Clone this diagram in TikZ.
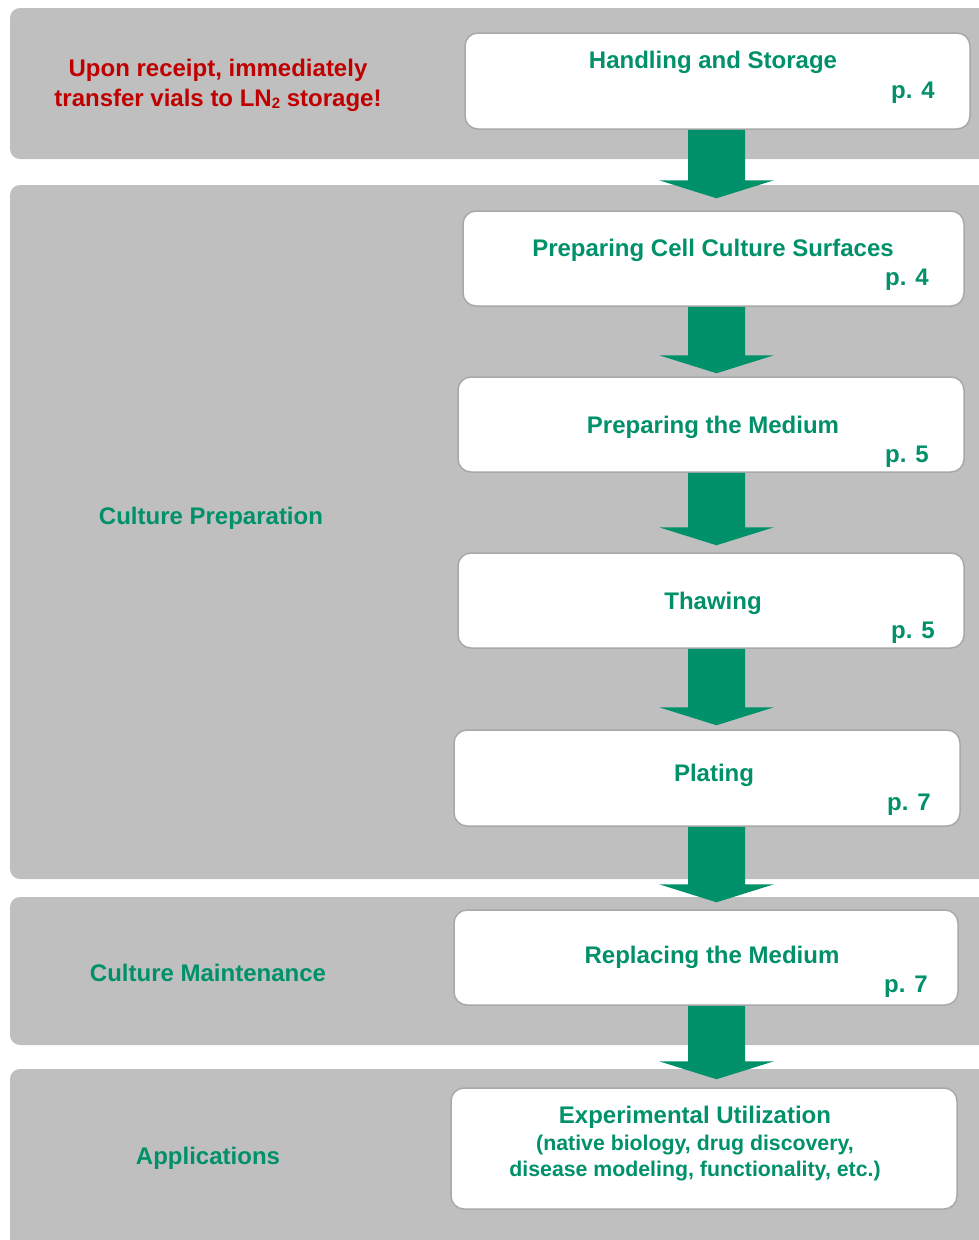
\documentclass[tikz,border=0pt]{standalone}
\usepackage{fontspec}
\setmainfont{Liberation Sans}
\usetikzlibrary{calc}
\definecolor{panelgray}{RGB}{191,191,191}
\definecolor{boxline}{RGB}{168,168,168}
\definecolor{stepgreen}{RGB}{0,145,106}
\definecolor{alertred}{RGB}{192,0,0}

% down arrow from the bottom of one step box to just above the next one
\newcommand{\flowarrow}[3]{%
  \fill[stepgreen] let \p1=(#1.south), \p2=(#2.north) in
    (688pt,\y1) -- (745pt,\y1) -- (745pt,\y2+#3+18pt) -- (774pt,\y2+#3+18pt)
    -- (716.5pt,\y2+#3) -- (659pt,\y2+#3+18pt) -- (688pt,\y2+#3+18pt) -- cycle;}

\begin{document}
\begin{tikzpicture}[x=1pt,y=1pt,
  panel/.style={fill=panelgray, rounded corners=10pt},
  stepbox/.style={draw=boxline, line width=1.5pt, fill=white, rounded corners=13pt,
    minimum width=#1, inner sep=0pt},
  big/.style={font=\fontsize{24}{30}\selectfont\bfseries, text=stepgreen, inner sep=0pt},
  small/.style={font=\fontsize{21.3}{26}\selectfont\bfseries, text=stepgreen, inner sep=0pt}]
\useasboundingbox (0,0) rectangle (979,-1240);
\clip (0,0) rectangle (979,-1240);

% section panels
\fill[panel] (10,-8) rectangle (1000,-159);
\fill[panel] (10,-185) rectangle (1000,-879);
\fill[panel] (10,-897) rectangle (1000,-1045);
\fill[panel] (10,-1069) rectangle (1000,-1260);

% section labels
\node[font=\fontsize{24}{30}\selectfont\bfseries, text=alertred, align=center, inner sep=0pt]
  (note) at (218,-85) {Upon receipt, immediately\\transfer vials to LN{\fontsize{15}{15}\selectfont\raisebox{-2pt}{2}} storage!};
\node[big] (prep) at (211,-518) {Culture Preparation};
\node[big] (maint) at (208,-973) {Culture Maintenance};
\node[big] (apps) at (208,-1158) {Applications};

% step boxes
\node[stepbox=505pt, minimum height=96pt] (b1) at (717.5,-81) {};
\node[stepbox=501pt, minimum height=95pt] (b2) at (713.5,-258.5) {};
\node[stepbox=506pt, minimum height=95pt] (b3) at (711,-424.5) {};
\node[stepbox=506pt, minimum height=95pt] (b4) at (711,-600.5) {};
\node[stepbox=506pt, minimum height=96pt] (b5) at (707,-778) {};
\node[stepbox=504pt, minimum height=95pt] (b6) at (706,-957.5) {};
\node[stepbox=506pt, minimum height=121pt] (b7) at (704,-1148.5) {};

% step titles and page references
\node[big] (t1) at (713,-62) {Handling and Storage};
\node[big, anchor=east] (p1) at (935,-93) {p. 4};
\node[big] (t2) at (713,-250) {Preparing Cell Culture Surfaces};
\node[big, anchor=east] (p2) at (929,-280) {p. 4};
\node[big] (t3) at (713,-427) {Preparing the Medium};
\node[big, anchor=east] (p3) at (929,-457) {p. 5};
\node[big] (t4) at (713,-603) {Thawing};
\node[big, anchor=east] (p4) at (935,-633) {p. 5};
\node[big] (t5) at (714,-775) {Plating};
\node[big, anchor=east] (p5) at (931,-805) {p. 7};
\node[big] (t6) at (712,-957) {Replacing the Medium};
\node[big, anchor=east] (p6) at (928,-987) {p. 7};
\node[big] (t7) at (695,-1117) {Experimental Utilization};
\node[small] (u1) at (695,-1145) {(native biology, drug discovery,};
\node[small] (u2) at (695,-1171) {disease modeling, functionality, etc.)};

% arrows between steps
\flowarrow{b1}{b2}{12pt}
\flowarrow{b2}{b3}{3pt}
\flowarrow{b3}{b4}{7pt}
\flowarrow{b4}{b5}{4pt}
\flowarrow{b5}{b6}{7pt}
\flowarrow{b6}{b7}{8pt}
\end{tikzpicture}
\end{document}
